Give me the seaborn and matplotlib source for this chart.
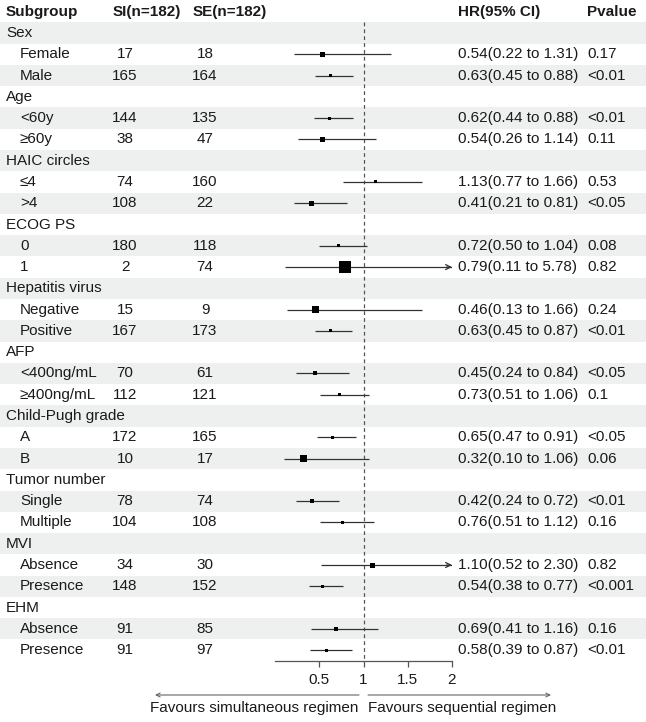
import numpy as np
import pandas as pd
import seaborn as sns
import matplotlib.pyplot as plt
from matplotlib import transforms
from matplotlib.patches import Rectangle

groups = ["Sex", "Age", "HAIC circles", "ECOG PS", "Hepatitis virus", "AFP",
          "Child-Pugh grade", "Tumor number", "MVI", "EHM"]
subgroups = [["Female", "Male"], ["<60y", "≥60y"], ["≤4", ">4"], ["0", "1"],
             ["Negative", "Positive"], ["<400ng/mL", "≥400ng/mL"], ["A", "B"],
             ["Single", "Multiple"], ["Absence", "Presence"], ["Absence", "Presence"]]
si_n = [17, 165, 144, 38, 74, 108, 180, 2, 15, 167, 70, 112, 172, 10, 78, 104, 34, 148, 91, 91]
se_n = [18, 164, 135, 47, 160, 22, 118, 74, 9, 173, 61, 121, 165, 17, 74, 108, 30, 152, 85, 97]
hr = [0.54, 0.63, 0.62, 0.54, 1.13, 0.41, 0.72, 0.79, 0.46, 0.63,
      0.45, 0.73, 0.65, 0.32, 0.42, 0.76, 1.10, 0.54, 0.69, 0.58]
ci_lo = [0.22, 0.45, 0.44, 0.26, 0.77, 0.21, 0.50, 0.11, 0.13, 0.45,
         0.24, 0.51, 0.47, 0.10, 0.24, 0.51, 0.52, 0.38, 0.41, 0.39]
ci_hi = [1.31, 0.88, 0.88, 1.14, 1.66, 0.81, 1.04, 5.78, 1.66, 0.87,
         0.84, 1.06, 0.91, 1.06, 0.72, 1.12, 2.30, 0.77, 1.16, 0.87]
pval = ["0.17", "<0.01", "<0.01", "0.11", "0.53", "<0.05", "0.08", "0.82", "0.24", "<0.01",
        "<0.05", "0.1", "<0.05", "0.06", "<0.01", "0.16", "0.82", "<0.001", "0.16", "<0.01"]
box_px = [5, 3, 3, 5, 3, 5, 3, 12, 7, 3, 4, 3, 3, 7, 4, 3, 5, 3, 4, 3]
xticks = [0.5, 1, 1.5, 2]

sns.set_theme(style="white")
plt.rcParams["font.family"] = ["Liberation Sans", "DejaVu Sans"]
TXT = "#1a1a1a"
BAND = "#eef0ef"
FS = 11

# build one row per line in the table
rows = []
k = 0
for g, subs in zip(groups, subgroups):
    rows.append({"label": g, "kind": "group"})
    for s in subs:
        rows.append({"label": s, "kind": "sub", "si": si_n[k], "se": se_n[k], "hr": hr[k],
                     "lo": ci_lo[k], "hi": ci_hi[k], "p": pval[k], "box": box_px[k]})
        k += 1
df = pd.DataFrame(rows)
df["row"] = np.arange(len(df))
est = df[df["kind"] == "sub"].copy()

W, H = 646, 722
fig = plt.figure(figsize=(W / 100, H / 100), dpi=100)
row0, pitch = 33, 21.28
axis_px = 661
ax = fig.add_axes([275 / W, 1 - axis_px / H, 177 / W, axis_px / H])
ax.set_facecolor("none")
ax.set_xlim(0, 2)
ax.set_ylim((axis_px - row0) / pitch, -row0 / pitch)

trans = transforms.blended_transform_factory(fig.transFigure, ax.transData)

# striped background
for r in df["row"]:
    if r % 2 == 0:
        ax.add_patch(Rectangle((0, r - 0.5), 1, 1, transform=trans, facecolor=BAND,
                               edgecolor="none", clip_on=False, zorder=0))

# table text
def put(xpx, y, s, **kw):
    ax.text(xpx / W, y, s, transform=trans, fontsize=FS, color=TXT, va="center", **kw)

put(6, -1, "Subgroup", fontweight="bold")
put(113, -1, "SI(n=182)", fontweight="bold")
put(193, -1, "SE(n=182)", fontweight="bold")
put(458, -1, "HR(95% CI)", fontweight="bold")
put(587, -1, "Pvalue", fontweight="bold")

for _, r in df.iterrows():
    if r["kind"] == "group":
        put(6, r["row"], r["label"])
    else:
        put(20, r["row"], r["label"])
        put(125, r["row"], f"{r['si']:.0f}", ha="center")
        put(205, r["row"], f"{r['se']:.0f}", ha="center")
        put(458, r["row"], f"{r['hr']:.2f}({r['lo']:.2f} to {r['hi']:.2f})")
        put(587, r["row"], r["p"])

# reference line
ax.vlines(1, -0.5, ax.get_ylim()[0], colors="#555555", linestyles=(0, (3, 2.5)),
          linewidth=0.9, zorder=1)

# confidence intervals
xmax = ax.get_xlim()[1]
ax.hlines(est["row"], est["lo"], np.minimum(est["hi"], xmax), colors="#333333",
          linewidth=0.9, zorder=2)
for _, r in est[est["hi"] > xmax].iterrows():
    ax.annotate("", xy=(xmax, r["row"]), xytext=(xmax - 0.06, r["row"]),
                arrowprops=dict(arrowstyle="->", color="#333333", lw=0.9,
                                shrinkA=0, shrinkB=0, mutation_scale=9))

# point estimates
size_map = {v: (v * 0.72) ** 2 for v in sorted(set(box_px))}
sns.scatterplot(data=est, x="hr", y="row", size="box", sizes=size_map, marker="s",
                color="black", edgecolor="none", legend=False, ax=ax, zorder=3)

# axis
for side in ["top", "right", "left"]:
    ax.spines[side].set_visible(False)
ax.spines["bottom"].set_color("#555555")
ax.spines["bottom"].set_linewidth(0.9)
ax.set_xticks(xticks)
ax.set_xticklabels([f"{t:g}" for t in xticks])
ax.tick_params(axis="x", direction="out", length=4, width=0.9, color="#555555",
               labelsize=FS, labelcolor=TXT, pad=5, bottom=True)
ax.set_yticks([])
ax.set_xlabel("")
ax.set_ylabel("")

# favours arrows
def fpt(x, y):
    return (x / W, 1 - y / H)

ax.annotate("", xy=fpt(155, 695), xytext=fpt(359, 695), xycoords="figure fraction",
            textcoords="figure fraction",
            arrowprops=dict(arrowstyle="->", color="#666666", lw=0.8,
                            shrinkA=0, shrinkB=0, mutation_scale=7))
ax.annotate("", xy=fpt(551, 695), xytext=fpt(368, 695), xycoords="figure fraction",
            textcoords="figure fraction",
            arrowprops=dict(arrowstyle="->", color="#666666", lw=0.8,
                            shrinkA=0, shrinkB=0, mutation_scale=7))
fig.text(*fpt(358, 708), "Favours simultaneous regimen", ha="right", va="center",
         fontsize=FS, color=TXT)
fig.text(*fpt(368, 708), "Favours sequential regimen", ha="left", va="center",
         fontsize=FS, color=TXT)

fig.savefig("out.png", dpi=100, facecolor="white")
